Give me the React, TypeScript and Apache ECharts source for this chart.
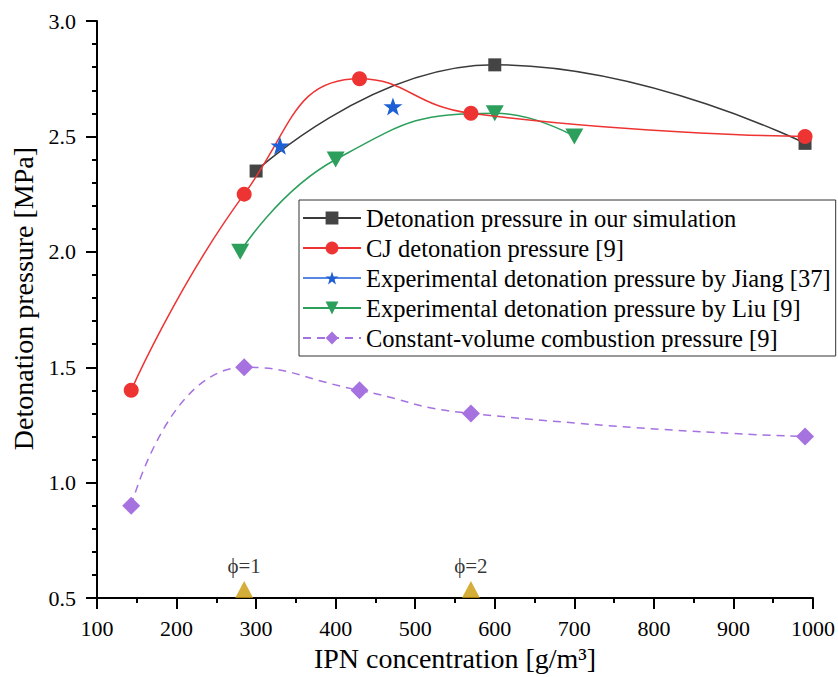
import React, { useEffect, useRef } from "react";
import * as echarts from "echarts";

// IPN concentration [g/m^3] and pressures [MPa] for each data set
const simConc = [300, 600, 990];
const simPressure = [2.35, 2.81, 2.47];

const cjConc = [143, 285, 430, 570, 990];
const cjPressure = [1.4, 2.25, 2.75, 2.6, 2.5];

const jiangConc = [330, 472];
const jiangPressure = [2.46, 2.63];

const liuConc = [280, 400, 600, 700];
const liuPressure = [2.0, 2.4, 2.6, 2.5];

const cvConc = [143, 285, 430, 570, 990];
const cvPressure = [0.9, 1.5, 1.4, 1.3, 1.2];

// Equivalence-ratio markers along the concentration axis
const phiConc = [285, 570];
const phiLabels = ["ϕ=1", "ϕ=2"];
const phiBase = 0.5;

const seriesNames = [
  "Detonation pressure in our simulation",
  "CJ detonation pressure [9]",
  "Experimental detonation pressure by Jiang [37]",
  "Experimental detonation pressure by Liu [9]",
  "Constant-volume combustion pressure [9]",
];

const SERIF = "Liberation Serif";

const STAR =
  "path://M50 0 L61.76 33.82 L97.55 34.55 L69.02 56.18 L79.39 90.45 L50 70 L20.61 90.45 L30.98 56.18 L2.45 34.55 L38.24 33.82 Z";

const pairs = (xs: number[], ys: number[]) => xs.map((x, i) => [x, ys[i]]);

export default function App() {
  const ref = useRef<HTMLDivElement>(null);

  useEffect(() => {
    document.body.style.margin = "0";
    if (!ref.current) return;
    const chart = echarts.init(ref.current, null, { renderer: "svg" });

    const colors = {
      sim: "#444444",
      cj: "#ee3333",
      jiang: "#1f5fd6",
      liu: "#2c9f5c",
      cv: "#a672e0",
      phi: "#c99a06",
    };

    chart.setOption({
      animation: false,
      textStyle: { fontFamily: SERIF },
      grid: { left: 97, right: 25, top: 21, bottom: 77, containLabel: false },
      legend: {
        orient: "vertical",
        left: 299,
        top: 200,
        padding: [5, 5, 5, 3],
        itemWidth: 58,
        itemHeight: 16,
        itemGap: 4,
        borderColor: "#333333",
        borderWidth: 1,
        backgroundColor: "#ffffff",
        textStyle: {
          fontFamily: SERIF,
          fontSize: 24.5,
          color: "#000",
          lineHeight: 26,
        },
        data: [
          { name: seriesNames[0] },
          { name: seriesNames[1] },
          {
            name: seriesNames[2],
            lineStyle: { opacity: 1, color: colors.jiang, width: 1.5 },
          },
          { name: seriesNames[3] },
          { name: seriesNames[4] },
        ],
      },
      xAxis: {
        type: "value",
        min: 100,
        max: 1000,
        interval: 100,
        name: "IPN concentration [g/m³]",
        nameLocation: "middle",
        nameGap: 44,
        nameTextStyle: { fontFamily: SERIF, fontSize: 28, color: "#000" },
        axisLine: { show: true, lineStyle: { color: "#000000", width: 2 } },
        axisTick: { show: true, length: 11, lineStyle: { color: "#000000", width: 2 } },
        minorTick: { show: true, splitNumber: 2, length: 5, lineStyle: { color: "#000000", width: 2 } },
        axisLabel: {
          fontFamily: SERIF,
          fontSize: 22,
          color: "#000",
          margin: 19,
          formatter: (v: number) => String(v),
        },
        splitLine: { show: false },
      },
      yAxis: {
        type: "value",
        min: 0.5,
        max: 3.0,
        interval: 0.5,
        name: "Detonation pressure [MPa]",
        nameLocation: "middle",
        nameGap: 50,
        nameTextStyle: {
          fontFamily: SERIF,
          fontSize: 28,
          color: "#000",
          padding: [0, 0, 0, 22],
        },
        axisLine: { show: true, lineStyle: { color: "#000000", width: 2 } },
        axisTick: { show: true, length: 11, lineStyle: { color: "#000000", width: 2 } },
        minorTick: { show: true, splitNumber: 5, length: 5, lineStyle: { color: "#000000", width: 2 } },
        axisLabel: {
          fontFamily: SERIF,
          fontSize: 22,
          color: "#000",
          margin: 21,
          formatter: (v: number) => v.toFixed(1),
        },
        splitLine: { show: false },
      },
      series: [
        {
          name: seriesNames[0],
          type: "line",
          smooth: 0.5,
          data: pairs(simConc, simPressure),
          symbol: "rect",
          symbolSize: 13,
          lineStyle: { color: "#3a3a3a", width: 1.5 },
          itemStyle: { color: colors.sim },
          z: 3,
        },
        {
          name: seriesNames[1],
          type: "line",
          smooth: 0.5,
          data: pairs(cjConc, cjPressure),
          symbol: "circle",
          symbolSize: 15,
          lineStyle: { color: colors.cj, width: 1.5 },
          itemStyle: { color: colors.cj },
          z: 4,
        },
        {
          name: seriesNames[2],
          type: "line",
          data: pairs(jiangConc, jiangPressure),
          symbol: STAR,
          symbolSize: [19, 18],
          lineStyle: { color: colors.jiang, width: 1.5, opacity: 0 },
          itemStyle: { color: colors.jiang },
          z: 5,
        },
        {
          name: seriesNames[3],
          type: "line",
          smooth: 0.5,
          data: pairs(liuConc, liuPressure),
          symbol: "triangle",
          symbolRotate: 180,
          symbolSize: [18, 16],
          lineStyle: { color: colors.liu, width: 1.5 },
          itemStyle: { color: colors.liu },
          z: 3,
        },
        {
          name: seriesNames[4],
          type: "line",
          smooth: 0.55,
          data: pairs(cvConc, cvPressure),
          symbol: "diamond",
          symbolSize: 18,
          lineStyle: { color: colors.cv, width: 1.5, type: [8, 6] },
          itemStyle: { color: colors.cv },
          z: 3,
        },
        {
          name: "phi",
          type: "scatter",
          data: phiConc.map((c, i) => ({ value: [c, phiBase], name: phiLabels[i] })),
          symbol: "triangle",
          symbolSize: [18, 17],
          symbolOffset: [0, -8.5],
          itemStyle: { color: colors.phi },
          clip: false,
          label: {
            show: true,
            position: "top",
            distance: 5,
            formatter: (p: any) => p.name,
            fontFamily: SERIF,
            fontSize: 21,
            color: "#000",
          },
          z: 6,
        },
      ],
    });

    return () => chart.dispose();
  }, []);

  return <div ref={ref} style={{ width: 838, height: 677 }} />;
}
